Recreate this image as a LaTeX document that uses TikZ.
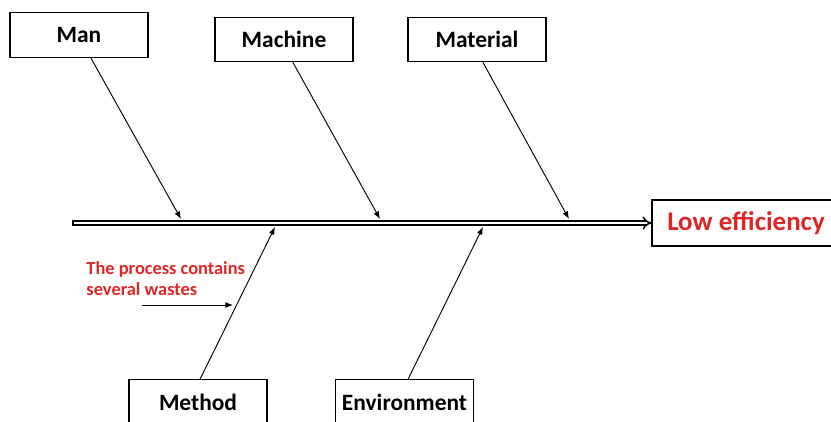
\documentclass[tikz,border=0pt]{standalone}
\usepackage{fontspec}
\setmainfont{Carlito}
\usetikzlibrary{positioning, calc, arrows.meta}
\definecolor{effred}{RGB}{222,38,38}

\begin{document}
\begin{tikzpicture}[x=0.03cm, y=-0.03cm, thick]
        % Define styles
        \tikzstyle{cause} = [rectangle, draw, line width=0.9pt, minimum width=4.14cm, minimum height=1.33cm, font=\fontsize{20}{22}\selectfont\bfseries]
        \tikzstyle{bone} = [line width=0.8pt, -{Latex[length=6.5pt, width=5pt]}]
        \tikzstyle{spine} = [double, double distance=2.4pt, line width=1.3pt, -{Implies}]

        \useasboundingbox (0,0) rectangle (831,422);

        % Place cause boxes
        \node [cause] (man) at (79,35) {Man};
        \node [cause] (machine) at (284,39.5) {Machine};
        \node [cause] (material) at (477,39.5) {Material};
        \node [cause] (method) at (198,402) {Method};
        \node [cause] (environment) at (404.5,402) {Environment};

        % Effect box
        \node [cause, minimum width=5.64cm, minimum height=1.38cm, text=effred, font=\fontsize{23}{26}\selectfont\bfseries] (effect) at (746,223) {Low efficiency};

        % Points on the spine
        \coordinate (tail) at (73,223);
        \coordinate (manhit) at (181,219);
        \coordinate (machinehit) at (380,219);
        \coordinate (materialhit) at (569,219);
        \coordinate (methodhit) at (275,227);
        \coordinate (environmenthit) at (483,227);

        % Spine
        \draw [spine] (tail) -- (effect.west);
        \draw [line width=0.9pt] ([yshift=2.4pt]tail) -- ([yshift=-2.4pt]tail);

        % Bones
        \draw [bone] ([xshift=10pt]man.south) -- (manhit);
        \draw [bone] ([xshift=7.5pt]machine.south) -- (machinehit);
        \draw [bone] ([xshift=5pt]material.south) -- (materialhit);
        \draw [bone] ([xshift=1.7pt]method.north) -- (methodhit);
        \draw [bone] ([xshift=3pt]environment.north) -- (environmenthit);

        % Note on the method bone
        \node [anchor=north west, align=left, text=effred, inner sep=0pt, font=\fontsize{15.7}{18}\selectfont\bfseries] (waste) at (86,261) {The process contains\\several wastes};
        \coordinate (wastetail) at (142,305);
        \coordinate (wastetip) at (233,305);
        \draw [bone] (wastetail) -- (wastetip);
    \end{tikzpicture}
\end{document}
